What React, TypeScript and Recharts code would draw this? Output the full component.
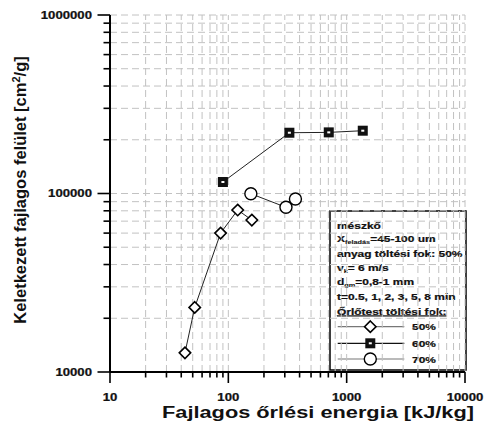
import React from 'react';
import { ComposedChart, Line, XAxis, YAxis, ReferenceLine, Customized } from 'recharts';

// Specific grinding energy [kJ/kg] and generated specific surface [cm2/g]
const energy50 = [43, 52, 86, 120, 158];
const surface50 = [12800, 23000, 60000, 80800, 71000];
const energy60 = [90, 328, 706, 1368];
const surface60 = [116000, 219000, 220000, 224800];
const energy70 = [155, 307, 369];
const surface70 = [99700, 83700, 93100];

const xMajorTicks = [10, 100, 1000, 10000];
const yMajorTicks = [10000, 100000, 1000000];
const xAllTicks = [
  10, 20, 30, 40, 50, 60, 70, 80, 90,
  100, 200, 300, 400, 500, 600, 700, 800, 900,
  1000, 2000, 3000, 4000, 5000, 6000, 7000, 8000, 9000, 10000,
];
const yAllTicks = [
  10000, 20000, 30000, 40000, 50000, 60000, 70000, 80000, 90000,
  100000, 200000, 300000, 400000, 500000, 600000, 700000, 800000, 900000, 1000000,
];

const legendLines = [
  'anyag töltési fok: 50%',
  't=0.5, 1, 2, 3, 5, 8 min',
];
const seriesLabels = ['50%', '60%', '70%'];

const toPoints = (xs: number[], ys: number[]) => xs.map((x, i) => ({ x, y: ys[i] }));
const s50 = toPoints(energy50, surface50);
const s60 = toPoints(energy60, surface60);
const s70 = toPoints(energy70, surface70);

const FONT = '"Liberation Sans", Arial, sans-serif';
// the lettering is set wide: plain Arial-style glyphs stretched horizontally
const WIDE = 1.22;

const Diamond = ({ cx, cy }: { cx: number; cy: number }) => (
  <polygon
    points={`${cx},${cy - 5.7} ${cx + 5.7},${cy} ${cx},${cy + 5.7} ${cx - 5.7},${cy}`}
    fill="#fff"
    stroke="#000"
    strokeWidth={1.6}
  />
);
const Square = ({ cx, cy }: { cx: number; cy: number }) => (
  <g>
    <rect x={cx - 5} y={cy - 5} width={10} height={10} fill="#111" />
    <rect x={cx - 1.5} y={cy - 1} width={3} height={2} fill="#fff" />
  </g>
);
const Circle = ({ cx, cy }: { cx: number; cy: number }) => (
  <circle cx={cx} cy={cy} r={6} fill="#fff" stroke="#000" strokeWidth={1.4} />
);

const dotOf = (Shape: any) => (p: any) => (
  <g key={`d-${p.index}`}>
    <Shape cx={p.cx} cy={p.cy} />
  </g>
);

const WideText = ({ x, y, anchor = 'start', size, children, style }: any) => (
  <text
    transform={`translate(${x},${y}) scale(${WIDE},1)`}
    x={0}
    y={0}
    textAnchor={anchor}
    fontFamily={FONT}
    fontWeight="bold"
    fontSize={size}
    fill="#111"
    stroke="#111"
    strokeWidth={0.25}
    style={style}
  >
    {children}
  </text>
);

const XTick = (props: any) => {
  const { x, y, payload } = props;
  const major = xMajorTicks.includes(payload.value);
  return (
    <g>
      <line x1={x} y1={y} x2={x} y2={y + (major ? 11 : 5.5)} stroke="#000" strokeWidth={1.6} />
      {major && (
        <WideText x={x} y={y + 28.8} anchor="middle" size={10.8}>
          {payload.value}
        </WideText>
      )}
    </g>
  );
};

const YTick = (props: any) => {
  const { x, y, payload } = props;
  const major = yMajorTicks.includes(payload.value);
  return (
    <g>
      <line x1={x} y1={y} x2={x - (major ? 12.5 : 6.5)} y2={y} stroke="#000" strokeWidth={1.6} />
      {major && (
        <WideText x={x - 18} y={y + 3.9} anchor="end" size={10.8}>
          {payload.value}
        </WideText>
      )}
    </g>
  );
};

const LegendBox = () => {
  const tx = 337;
  const fs = 9.8;
  const sub = 6;
  const rows = [
    { y: 326.7, shape: Diamond, color: '#777' },
    { y: 343.3, shape: Square, color: '#111' },
    { y: 359, shape: Circle, color: '#777' },
  ];
  return (
    <g>
      <rect x={330} y={211} width={136} height={159} fill="#fff" stroke="#000" strokeWidth={1.5} />
      <WideText x={tx} y={228.5} size={fs}>mészkő</WideText>
      <WideText x={tx} y={241.8} size={fs}>
        X<tspan fontSize={sub} dy={2} strokeWidth={0.1}>feladás</tspan>
        <tspan dy={-2}>=45-100 um</tspan>
      </WideText>
      <WideText x={tx} y={256.8} size={fs}>{legendLines[0]}</WideText>
      <WideText x={tx} y={270.8} size={fs}>
        v<tspan fontSize={sub} dy={2} strokeWidth={0.1}>k</tspan>
        <tspan dy={-2}>= 6 m/s</tspan>
      </WideText>
      <WideText x={tx} y={285.2} size={fs}>
        d<tspan fontSize={sub} dy={2} strokeWidth={0.1}>gm</tspan>
        <tspan dy={-2}>=0,8-1 mm</tspan>
      </WideText>
      <WideText x={tx} y={300.2} size={fs}>{legendLines[1]}</WideText>
      <WideText x={tx} y={314.5} size={fs} style={{ textDecoration: 'underline' }}>
        Őrlőtest töltési fok:
      </WideText>
      {rows.map((r, i) => {
        const S = r.shape;
        return (
          <g key={seriesLabels[i]}>
            <line x1={337.7} y1={r.y} x2={404.3} y2={r.y} stroke={r.color} strokeWidth={1.2} />
            <S cx={370.3} cy={r.y} />
            <WideText x={412} y={r.y + 3.6} size={fs}>{seriesLabels[i]}</WideText>
          </g>
        );
      })}
    </g>
  );
};

const Titles = () => (
  <g>
    <text
      x={318}
      y={418}
      textAnchor="middle"
      fontFamily={FONT}
      fontWeight="bold"
      fontSize={16.3}
      fill="#111"
      textLength={312}
      lengthAdjust="spacingAndGlyphs"
    >
      Fajlagos őrlési energia [kJ/kg]
    </text>
    <text
      transform="translate(25.5,190) rotate(-90)"
      x={0}
      y={0}
      textAnchor="middle"
      fontFamily={FONT}
      fontWeight="bold"
      fontSize={16.5}
      fill="#111"
    >
      Keletkezett fajlagos felület [cm<tspan fontSize={11} dy={-6}>2</tspan>
      <tspan dy={6}>/g]</tspan>
    </text>
  </g>
);

export default function App() {
  return (
    <div style={{ position: 'absolute', left: 0, top: 0, width: 484, height: 421, background: '#fff' }}>
      <ComposedChart width={484} height={421} margin={{ top: 15, right: 19, left: 10, bottom: 9 }}>
        <XAxis
          dataKey="x"
          type="number"
          scale="log"
          domain={[10, 10000]}
          ticks={xAllTicks}
          interval={0}
          allowDataOverflow
          tickSize={0}
          tickMargin={0}
          tickLine={false}
          tick={<XTick />}
          axisLine={{ stroke: '#000', strokeWidth: 2 }}
          height={40}
        />
        <YAxis
          dataKey="y"
          type="number"
          scale="log"
          domain={[10000, 1000000]}
          ticks={yAllTicks}
          interval={0}
          allowDataOverflow
          tickSize={0}
          tickMargin={0}
          tickLine={false}
          tick={<YTick />}
          axisLine={{ stroke: '#000', strokeWidth: 2 }}
          width={100}
        />
        {xAllTicks.slice(1).map((v) => (
          <ReferenceLine key={`gx${v}`} x={v} stroke="#c2c2c2" strokeDasharray="7 4" strokeWidth={1} />
        ))}
        {yAllTicks.slice(1).map((v) => (
          <ReferenceLine key={`gy${v}`} y={v} stroke="#c2c2c2" strokeDasharray="7 4" strokeWidth={1} />
        ))}
        <Customized component={LegendBox} />
        <Line data={s50} dataKey="y" type="linear" stroke="#222" strokeWidth={1} dot={dotOf(Diamond)} isAnimationActive={false} />
        <Line data={s60} dataKey="y" type="linear" stroke="#222" strokeWidth={1} dot={dotOf(Square)} isAnimationActive={false} />
        <Line data={s70} dataKey="y" type="linear" stroke="#222" strokeWidth={1} dot={dotOf(Circle)} isAnimationActive={false} />
        <Customized component={Titles} />
      </ComposedChart>
    </div>
  );
}
